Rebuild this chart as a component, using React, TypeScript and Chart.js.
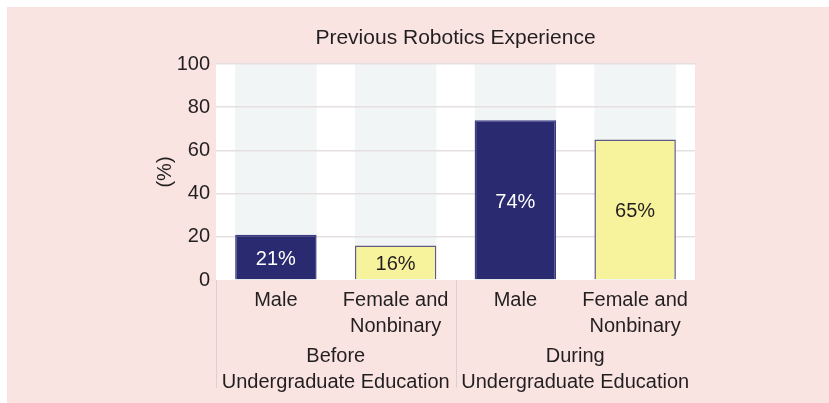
import React, { useEffect, useRef } from "react";
import { Chart, registerables } from "chart.js";

Chart.register(...registerables);

const chartTitle = "Previous Robotics Experience";
const yAxisTitle = "(%)";
const categories: string[][] = [["Male"], ["Female and", "Nonbinary"], ["Male"], ["Female and", "Nonbinary"]];
const groups: string[][] = [["Before", "Undergraduate Education"], ["During", "Undergraduate Education"]];
const values: number[] = [21, 16, 74, 65];
const yMin = 0;
const yMax = 100;
const yStep = 20;

const NAVY = "#2a2a70";
const YELLOW = "#f7f29c";
const TEXT = "#231f20";
const PINK = "#f9e4e2";
const FONT = "'Liberation Sans', Arial, Helvetica, sans-serif";

const barColors = [NAVY, YELLOW, NAVY, YELLOW];
const borderColors = ["#3c3c84", "#5f5b85", "#3c3c84", "#5f5b85"];
const labelColors = ["#ffffff", TEXT, "#ffffff", TEXT];

const decorPlugin = {
  id: "decor",
  beforeDraw(chart: any) {
    const { ctx, chartArea } = chart;
    ctx.save();
    ctx.fillStyle = "#ffffff";
    ctx.fillRect(chartArea.left, chartArea.top, chartArea.right - chartArea.left, chartArea.bottom - chartArea.top);
    const meta = chart.getDatasetMeta(0);
    ctx.fillStyle = "#f2f5f5";
    meta.data.forEach((el: any) => {
      const w = el.width;
      ctx.fillRect(el.x - w / 2, chartArea.top, w, chartArea.bottom - chartArea.top);
    });
    ctx.restore();
  },
  afterDraw(chart: any) {
    const { ctx, chartArea } = chart;
    const x2 = chart.scales.x2;
    ctx.save();
    ctx.strokeStyle = "#d9d2d2";
    ctx.lineWidth = 1;
    const mid = (x2.getPixelForTick(0) + x2.getPixelForTick(1)) / 2;
    [chartArea.left, mid].forEach((px: number) => {
      const x = Math.round(px) + 0.5;
      ctx.beginPath();
      ctx.moveTo(x, chartArea.bottom);
      ctx.lineTo(x, x2.bottom - 6);
      ctx.stroke();
    });
    const meta = chart.getDatasetMeta(0);
    ctx.font = `20px ${FONT}`;
    ctx.textAlign = "center";
    ctx.textBaseline = "middle";
    meta.data.forEach((el: any, i: number) => {
      ctx.fillStyle = labelColors[i];
      ctx.fillText(`${values[i]}%`, el.x, (el.y + el.base) / 2 + 2.5);
    });
    ctx.restore();
  },
};

export default function App() {
  const ref = useRef<HTMLCanvasElement | null>(null);
  useEffect(() => {
    const prevHtml = document.documentElement.style.background;
    document.documentElement.style.background = PINK;
    if (!ref.current) return;
    const chart = new Chart(ref.current, {
      type: "bar",
      data: {
        labels: categories,
        datasets: [
          {
            data: values,
            backgroundColor: barColors,
            borderColor: borderColors,
            borderWidth: 1.5,
            categoryPercentage: 1,
            barPercentage: 0.68,
          },
        ],
      },
      options: {
        animation: false,
        responsive: true,
        maintainAspectRatio: false,
        layout: { padding: { left: 146, right: 134, top: 0, bottom: 9 } },
        plugins: {
          legend: { display: false },
          tooltip: { enabled: false },
          title: {
            display: true,
            fullSize: false,
            text: chartTitle,
            color: TEXT,
            font: { family: FONT, size: 21, weight: "normal", lineHeight: 1.2 },
            padding: { top: 19, bottom: 12.8 },
          },
        },
        scales: {
          y: {
            min: yMin,
            max: yMax,
            ticks: { stepSize: yStep, color: TEXT, padding: 6, font: { family: FONT, size: 20, lineHeight: 1.2 } },
            grid: {
              drawTicks: false,
              color: (c: any) => (c.tick && c.tick.value === 0 ? "rgba(0,0,0,0)" : "#e6dfdf"),
              lineWidth: 1.5,
            },
            border: { display: false },
            title: {
              display: true,
              text: yAxisTitle,
              color: TEXT,
              padding: 0,
              font: { family: FONT, size: 20, lineHeight: 1.2 },
            },
            afterFit: (s: any) => {
              s.width = 63;
            },
          },
          x: {
            weight: 0,
            offset: true,
            grid: { display: false, drawTicks: false },
            border: { display: false },
            ticks: { color: TEXT, padding: 7, maxRotation: 0, autoSkip: false, font: { family: FONT, size: 20, lineHeight: 1.3 } },
            afterFit: (s: any) => {
              s.height = 58;
            },
          },
          x2: {
            type: "category",
            position: "bottom",
            weight: 1,
            labels: groups as any,
            offset: true,
            grid: { display: false, drawTicks: false },
            border: { display: false },
            ticks: { color: TEXT, padding: 5, maxRotation: 0, autoSkip: false, font: { family: FONT, size: 20, lineHeight: 1.3 } },
            afterFit: (s: any) => {
              s.height = 56;
            },
          },
        },
      } as any,
      plugins: [decorPlugin],
    });
    return () => {
      chart.destroy();
      document.documentElement.style.background = prevHtml;
    };
  }, []);
  return (
    <>
      <div style={{ position: "fixed", left: 0, top: 0, width: "100%", height: 7, background: "#ffffff" }} />
      <div style={{ position: "fixed", left: 0, top: 0, width: 7, height: "100%", background: "#ffffff" }} />
      <div style={{ position: "fixed", left: 7, top: 7, width: 822, height: 396, background: PINK }}>
        <canvas ref={ref} />
      </div>
    </>
  );
}
